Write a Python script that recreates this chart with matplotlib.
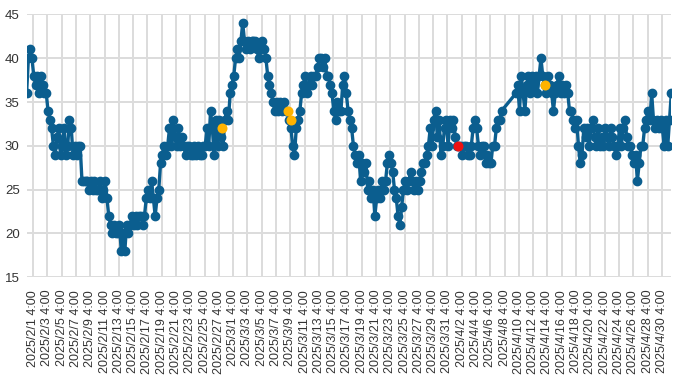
import matplotlib
matplotlib.use("Agg")
import matplotlib.pyplot as plt
import numpy as np
import pandas as pd

# 6-hourly readings, first one at 2025/1/31 6:00 (nan = no data, line just joins across)
start = pd.Timestamp("2025-01-31 06:00")
step_hours = 6
values = [
    36, 40, 41, 40, 38, 37, 38, 36, 38, 37,
    36, 36, 34, 33, 32, 30, 29, 31, 32, 29,
    30, 32, 29, 30, 33, 32, 29, 30, 29, 30,
    30, 26, 26, 26, 26, 25, 26, 25, 26, 25,
    25, 26, 24, 25, 26, 24, 22, 21, 20, 21,
    20, 20, 21, 18, 20, 18, 21, 20, 21, 22,
    21, 22, 21, 22, 22, 21, 22, 24, 25, 24,
    26, 24, 22, 24, 25, 28, 29, 30, 29, 30,
    32, 30, 33, 31, 30, 32, 30, 31, 30, 29,
    30, 30, 29, 29, 30, 29, 30, 29, 29, 30,
    30, 32, 30, 34, 32, 29, 33, 30, 33, 31,
    30, 33, 34, 33, 36, 37, 38, 40, 41, 40,
    42, 44, 42, 41, 42, 41, 42, 42, 42, 41,
    40, 41, 42, 41, 40, 38, 37, 36, 35, 34,
    35, 34, 35, 34, 35, 34, 34, 33, 32, 30,
    29, 32, 33, 34, 36, 37, 38, 36, 37, 38,
    37, 38, 38, 39, 40, 40, 39, 40, 38, 38,
    37, 36, 34, 33, 35, 34, 34, 37, 38, 36,
    34, 33, 32, 30, 29, 28, 29, 26, 28, 27,
    28, 25, 26, 24, 25, 22, 24, 25, 24, 26,
    25, 26, 28, 29, 28, 27, 25, 24, 22, 21,
    23, 25, 26, 25, 26, 27, 26, 25, 26, 25,
    26, 27, 28, 28, 29, 30, 32, 30, 33, 34,
    31, 33, 29, 30, 32, 33, 30, 33, 32, 33,
    31, 30, 30, 30, 29, 30, 30, 29, 29, 30,
    32, 33, 32, 30, 29, 30, 30, 28, 29, 28,
    28, 30, 30, 32, 33, 33, 34, np.nan, np.nan, np.nan,
    np.nan, np.nan, np.nan, np.nan, 36, 37, 34, 38, 36, 34,
    37, 38, 36, 38, 37, 38, 36, 38, 40, 38,
    37, 36, 38, 37, 36, 34, 36, 37, 38, 36,
    37, 36, 37, 36, 34, 34, 33, 32, 33, 30,
    28, 29, 32, 31, 32, 30, 32, 33, 31, 30,
    32, 30, 31, 30, 32, 31, 30, 32, 31, 30,
    29, 30, 32, 30, 32, 33, 31, 30, 30, 29,
    28, 29, 26, 28, 30, 30, 32, 33, 34, 33,
    36, 33, 32, 33, 32, 33, 32, 30, 33, 30,
    33, 36,
]

# highlighted points
orange_times = ["2025-02-27 13:00", "2025-03-08 19:00", "2025-03-09 06:00", "2025-04-13 18:00"]
orange_values = [32, 34, 33, 37]
red_times = ["2025-04-01 16:30"]
red_values = [30]

line_color = "#0b5e8f"

times = pd.date_range(start, periods=len(values), freq=f"{step_hours}h")
s = pd.Series(values, index=times).dropna()

plt.rcParams["font.family"] = ["Liberation Sans", "DejaVu Sans"]
fig = plt.figure(figsize=(7, 3.8), dpi=100)
ax = fig.add_axes([0.038, 0.2703, 0.9206, 0.6917])

ax.plot(s.index, s.values, color=line_color, lw=2.4, marker="o", ms=6.0,
        mec=line_color, mfc=line_color, zorder=3)
ax.scatter(pd.to_datetime(orange_times), orange_values, s=52, color="#ffb300", zorder=4, lw=0)
ax.scatter(pd.to_datetime(red_times), red_values, s=52, color="#ee1111", zorder=4, lw=0)

ticks = pd.date_range("2025-02-01 04:00", "2025-04-30 04:00", freq="2D")
ax.set_xticks(ticks)
ax.set_xticklabels([f"{t.year}/{t.month}/{t.day} {t.hour}:{t.minute:02d}" for t in ticks],
                   rotation=90, fontsize=9, color="#333333")
ax.set_xlim(pd.Timestamp("2025-01-31 06:00"), pd.Timestamp("2025-05-01 11:00"))

ax.set_ylim(15, 45)
ax.set_yticks(range(15, 46, 5))
ax.tick_params(axis="y", labelsize=9.5, labelcolor="#333333", length=0, pad=5)
ax.tick_params(axis="x", length=0, pad=9)

ax.grid(True, color="#dcdcdc", lw=1.4, zorder=0)
ax.set_axisbelow(True)
for sp in ax.spines.values():
    sp.set_visible(False)

fig.savefig("out.png", dpi=100)
